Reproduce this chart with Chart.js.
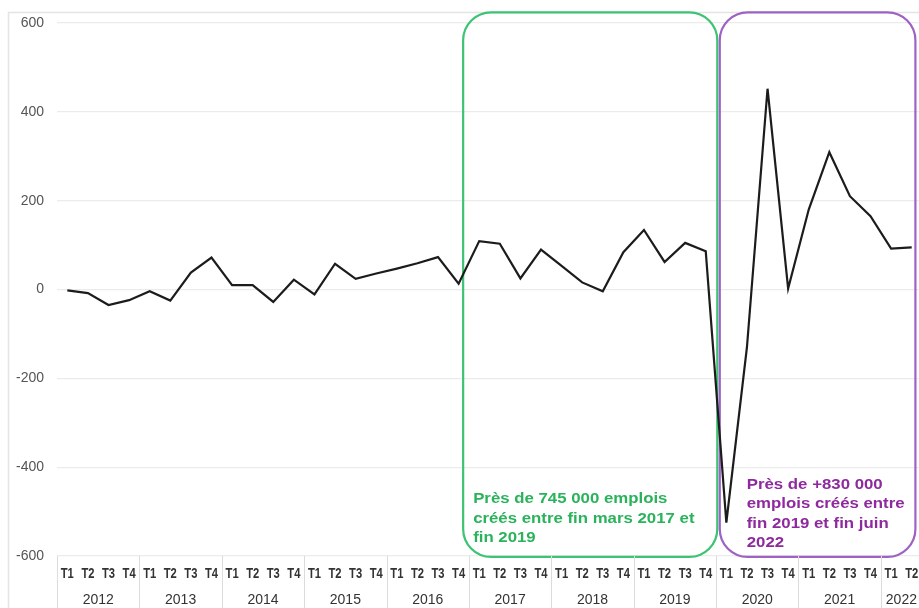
<!DOCTYPE html>
<html>
<head>
<meta charset="utf-8">
<script src="https://cdn.jsdelivr.net/npm/chart.js@4/dist/chart.umd.min.js"></script>
<style>
  html, body { margin: 0; padding: 0; background: #ffffff; overflow: hidden; }
  #wrap { position: relative; width: 922px; height: 608px; }
</style>
</head>
<body>
<div id="wrap"><canvas id="chart" width="922" height="608"></canvas></div>
<script>
// Net salaried job creation per quarter (thousands)
const yearLabels = ['2012', '2013', '2014', '2015', '2016', '2017', '2018', '2019', '2020', '2021', '2022'];
const quartersPerYear = [4, 4, 4, 4, 4, 4, 4, 4, 4, 4, 2];
const quarterLabels = [
  'T1', 'T2', 'T3', 'T4', 'T1', 'T2', 'T3', 'T4', 'T1', 'T2', 'T3', 'T4',
  'T1', 'T2', 'T3', 'T4', 'T1', 'T2', 'T3', 'T4', 'T1', 'T2', 'T3', 'T4',
  'T1', 'T2', 'T3', 'T4', 'T1', 'T2', 'T3', 'T4', 'T1', 'T2', 'T3', 'T4',
  'T1', 'T2', 'T3', 'T4', 'T1', 'T2'
];
const netJobs = [
  -2, -8, -35, -24,
  -4, -25, 38, 72,
  10, 10, -28, 22,
  -11, 58, 24, 36,
  47, 59, 73, 13,
  109, 103, 25, 90,
  53, 16, -4, 84,
  134, 62, 105, 86,
  -525, -130, 452, 2,
  180, 309, 210, 165,
  92, 95
];
const yTicks = [-600, -400, -200, 0, 200, 400, 600];

// Highlighted periods: x in category index units, y in value units
const periodBoxes = [
  { from: 19.22, to: 31.56, top: 624, bottom: -602, stroke: '#3cc373', text: '#2bb35c',
    lines: ['Près de 745 000 emplois', 'créés entre fin mars 2017 et', 'fin 2019'], textDx: 10 },
  { from: 31.68, to: 41.18, top: 624, bottom: -602, stroke: '#9d62c4', text: '#8e2a9e',
    lines: ['Près de +830 000', 'emplois créés entre', 'fin 2019 et fin juin', '2022'], textDx: 27 }
];

// Build "T1 2012"-style category keys from the year and quarter lists
const categories = [];
{
  let k = 0;
  yearLabels.forEach((y, yi) => {
    for (let q = 0; q < quartersPerYear[yi]; q++) { categories.push(quarterLabels[k] + ' ' + y); k++; }
  });
}

function drawStretched(ctx, txt, x, y, sx) {
  ctx.save();
  ctx.translate(x, y);
  ctx.scale(sx, 1);
  ctx.fillText(txt, 0, 0);
  ctx.restore();
}

function roundRect(ctx, x0, y0, x1, y1, r) {
  ctx.beginPath();
  ctx.moveTo(x0 + r, y0);
  ctx.lineTo(x1 - r, y0);
  ctx.arcTo(x1, y0, x1, y0 + r, r);
  ctx.lineTo(x1, y1 - r);
  ctx.arcTo(x1, y1, x1 - r, y1, r);
  ctx.lineTo(x0 + r, y1);
  ctx.arcTo(x0, y1, x0, y1 - r, r);
  ctx.lineTo(x0, y0 + r);
  ctx.arcTo(x0, y0, x0 + r, y0, r);
  ctx.closePath();
}

const framePlugin = {
  id: 'frame',
  beforeDraw(chart) {
    const ctx = chart.ctx;
    ctx.save();
    ctx.strokeStyle = '#e4e4e4';
    ctx.lineWidth = 1.5;
    ctx.beginPath();
    ctx.moveTo(8.5, chart.height);
    ctx.lineTo(8.5, 12.5);
    ctx.lineTo(chart.width, 12.5);
    ctx.stroke();
    ctx.restore();
  }
};

const periodPlugin = {
  id: 'periods',
  beforeDatasetsDraw(chart) {
    const ctx = chart.ctx, xs = chart.scales.x, ys = chart.scales.y;
    ctx.save();
    periodBoxes.forEach(b => {
      const x0 = xs.getPixelForValue(b.from), x1 = xs.getPixelForValue(b.to);
      const y0 = ys.getPixelForValue(b.top), y1 = ys.getPixelForValue(b.bottom);
      ctx.strokeStyle = b.stroke;
      ctx.lineWidth = 2.2;
      roundRect(ctx, x0, y0, x1, y1, 28);
      ctx.stroke();
      ctx.fillStyle = b.text;
      ctx.font = 'bold 15px "Liberation Sans", Arial, sans-serif';
      ctx.textBaseline = 'middle';
      ctx.textAlign = 'left';
      const lh = 19.3;
      const n = b.lines.length;
      b.lines.forEach((t, i) => {
        const cy = y1 - 14 - (n - 1 - i) * lh - (n === 3 ? 5 : 0);
        drawStretched(ctx, t, x0 + b.textDx, cy, 1.12);
      });
    });
    ctx.restore();
  }
};

const axisLabelPlugin = {
  id: 'quarterAxis',
  afterDraw(chart) {
    const ctx = chart.ctx, xs = chart.scales.x, area = chart.chartArea;
    ctx.save();
    // separators between years
    ctx.strokeStyle = '#dcdcdc';
    ctx.lineWidth = 1;
    let start = 0;
    const bounds = [start];
    quartersPerYear.forEach(n => { start += n; bounds.push(start); });
    bounds.forEach(b => {
      const x = Math.round(xs.getPixelForValue(b - 0.5)) + 0.5;
      ctx.beginPath();
      ctx.moveTo(x, area.bottom);
      ctx.lineTo(x, chart.height);
      ctx.stroke();
    });
    // quarter labels
    ctx.fillStyle = '#333333';
    ctx.textBaseline = 'middle';
    ctx.textAlign = 'center';
    ctx.font = 'bold 14px "Liberation Sans", Arial, sans-serif';
    quarterLabels.forEach((q, i) => {
      drawStretched(ctx, q, xs.getPixelForValue(i), area.bottom + 18, 0.8);
    });
    // year labels
    ctx.font = '14px "Liberation Sans", Arial, sans-serif';
    ctx.fillStyle = '#333333';
    yearLabels.forEach((y, yi) => {
      const a = bounds[yi], b = bounds[yi + 1] - 1;
      const cx = (xs.getPixelForValue(a) + xs.getPixelForValue(b)) / 2;
      ctx.fillText(y, cx, area.bottom + 44);
    });
    ctx.restore();
  }
};

new Chart(document.getElementById('chart'), {
  type: 'line',
  data: {
    labels: categories,
    datasets: [{
      data: netJobs,
      borderColor: '#1c1c1c',
      borderWidth: 2.2,
      pointRadius: 0,
      tension: 0,
      fill: false
    }]
  },
  options: {
    responsive: false,
    devicePixelRatio: 1,
    animation: false,
    layout: { padding: { top: 23, left: 3, right: 0, bottom: 52 } },
    plugins: { legend: { display: false }, tooltip: { enabled: false } },
    scales: {
      x: {
        type: 'category',
        offset: true,
        display: false
      },
      y: {
        min: -600,
        max: 600,
        afterBuildTicks(scale) { scale.ticks = yTicks.map(v => ({ value: v })); },
        grid: { color: '#ebebeb', lineWidth: 1.2, drawTicks: false },
        border: { display: false },
        ticks: {
          padding: 13,
          color: '#555555',
          font: { family: '"Liberation Sans", Arial, sans-serif', size: 14 }
        }
      }
    }
  },
  plugins: [framePlugin, periodPlugin, axisLabelPlugin]
});
</script>
</body>
</html>
